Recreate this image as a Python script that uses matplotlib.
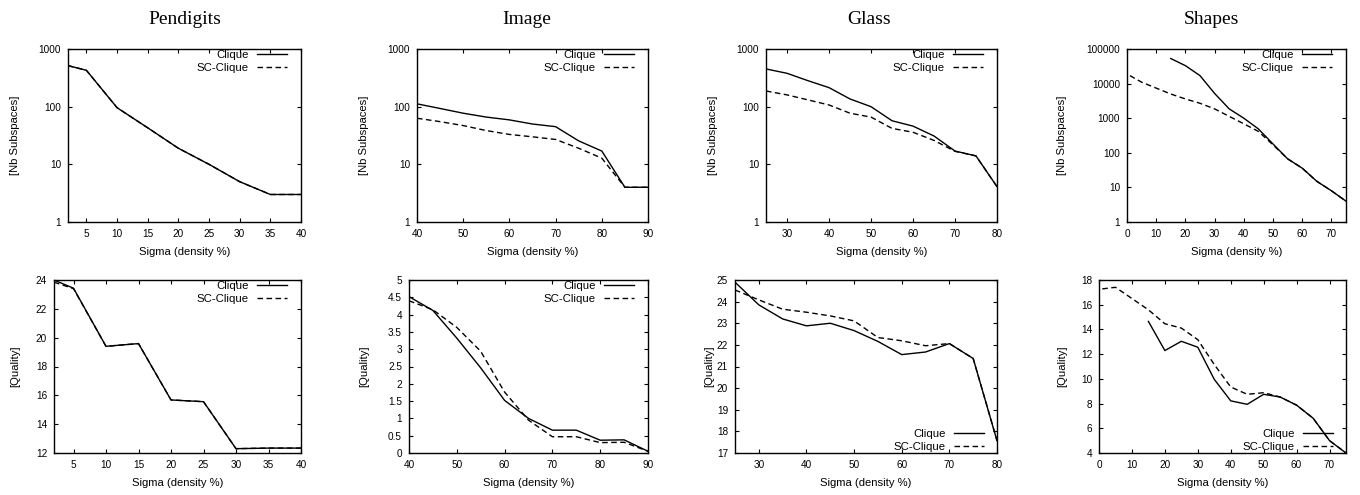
import matplotlib
matplotlib.use("Agg")
import matplotlib.pyplot as plt
from matplotlib.ticker import FuncFormatter, NullLocator

# ---------------- data ----------------
titles = ["Pendigits", "Image", "Glass", "Shapes"]
series_names = ["Clique", "SC-Clique"]

pend_x = [2, 5, 10, 15, 20, 25, 30, 35, 40]
pend_nb_clique = [515, 427, 96, 43, 19, 10, 5, 3, 3]
pend_nb_sc = [515, 427, 96, 43, 19, 10, 5, 3, 3]
pend_q_clique = [24.0, 23.43, 19.4, 19.59, 15.68, 15.56, 12.3, 12.34, 12.34]
pend_q_sc = [23.85, 23.4, 19.4, 19.59, 15.68, 15.56, 12.3, 12.34, 12.34]

image_x = [40, 45, 50, 55, 60, 65, 70, 75, 80, 85, 90]
image_nb_clique = [112, 93, 77, 66, 59, 50, 45, 25.5, 17, 4, 4]
image_nb_sc = [63, 55, 47, 38.5, 33, 30, 27, 19, 12.8, 4, 4]
image_q_clique = [4.52, 4.12, 3.32, 2.46, 1.52, 1.0, 0.66, 0.66, 0.37, 0.38, 0.05]
image_q_sc = [4.4, 4.14, 3.63, 2.94, 1.76, 0.95, 0.47, 0.47, 0.3, 0.31, 0.05]

glass_x = [25, 30, 35, 40, 45, 50, 55, 60, 65, 70, 75, 80]
glass_nb_clique = [451, 379, 282, 214, 136, 100, 57, 46, 31, 17, 14, 4.1]
glass_nb_sc = [187, 160, 131, 107, 77, 66, 42, 36, 26, 16.8, 14, 4.1]
glass_q_clique = [24.9, 23.85, 23.2, 22.88, 23.0, 22.66, 22.16, 21.55, 21.67, 22.06, 21.37, 17.57]
glass_q_sc = [24.54, 24.08, 23.65, 23.51, 23.34, 23.11, 22.34, 22.19, 21.96, 22.06, 21.37, 17.57]

shapes_clique_x = [15, 20, 25, 30, 35, 40, 45, 50, 55, 60, 65, 70, 75]
shapes_sc_x = [1, 5, 10, 15, 20, 25, 30, 35, 40, 45, 50, 55, 60, 65, 70, 75]
shapes_nb_clique = [53000, 33000, 17000, 5200, 1860, 1000, 490, 180, 67, 36, 15, 8, 4]
shapes_nb_sc = [17000, 11000, 7400, 5000, 3600, 2700, 1860, 1130, 690, 415, 170, 67, 36, 15, 8, 4]
shapes_q_clique = [14.65, 12.29, 13.04, 12.56, 9.96, 8.22, 7.94, 8.75, 8.53, 7.87, 6.82, 5.0, 4.0]
shapes_q_sc = [17.28, 17.41, 16.5, 15.59, 14.46, 14.11, 13.17, 11.16, 9.34, 8.75, 8.88, 8.53, 7.87, 6.82, 5.0, 4.0]

pend_xticks = [5, 10, 15, 20, 25, 30, 35, 40]
image_xticks = [40, 50, 60, 70, 80, 90]
glass_xticks = [30, 40, 50, 60, 70, 80]
shapes_xticks = [0, 10, 20, 30, 40, 50, 60, 70]

nb_yticks = [1, 10, 100, 1000]
shapes_nb_yticks = [1, 10, 100, 1000, 10000, 100000]
pend_q_yticks = [12, 14, 16, 18, 20, 22, 24]
image_q_yticks = [0, 0.5, 1, 1.5, 2, 2.5, 3, 3.5, 4, 4.5, 5]
glass_q_yticks = [17, 18, 19, 20, 21, 22, 23, 24, 25]
shapes_q_yticks = [4, 6, 8, 10, 12, 14, 16, 18]

xlabel_text = "Sigma (density %)"
ylabel_top = "[Nb Subspaces]"
ylabel_bottom = "[Quality]"

# ---------------- layout ----------------
W, H = 1360, 495
plt.rcParams["font.family"] = ["Liberation Sans", "DejaVu Sans"]
fig = plt.figure(figsize=(W / 100, H / 100), dpi=100)

def px_axes(l, r, t, b):
    return fig.add_axes([l / W, 1 - b / H, (r - l) / W, (b - t) / H])

top_lr = [(68, 301), (417, 648), (766, 997), (1127, 1346)]
bot_lr = [(54, 301), (409, 648), (735, 997), (1099, 1346)]
top_tb = (49, 222)
bot_tb = (280, 453)
ylabel_x_top = [15, 364, 713, 1062]
ylabel_x_bot = [15, 364, 709, 1062]
title_x = [185, 527, 869, 1211]

TICK_FS = 7.2
LABEL_FS = 8.1
LEG_FS = 8.2
SOLID = dict(color="black", lw=1.0, linestyle="-")
DASH = dict(color="black", lw=1.0, linestyle=(0, (4, 2.5)))

top_data = [
    (pend_x, pend_nb_clique, pend_x, pend_nb_sc, (2, 40), (1, 1000), pend_xticks, nb_yticks),
    (image_x, image_nb_clique, image_x, image_nb_sc, (40, 90), (1, 1000), image_xticks, nb_yticks),
    (glass_x, glass_nb_clique, glass_x, glass_nb_sc, (25, 80), (1, 1000), glass_xticks, nb_yticks),
    (shapes_clique_x, shapes_nb_clique, shapes_sc_x, shapes_nb_sc, (0, 75), (1, 100000), shapes_xticks, shapes_nb_yticks),
]
bot_data = [
    (pend_x, pend_q_clique, pend_x, pend_q_sc, (2, 40), (12, 24), pend_xticks, pend_q_yticks, "upper"),
    (image_x, image_q_clique, image_x, image_q_sc, (40, 90), (0, 5), image_xticks, image_q_yticks, "upper"),
    (glass_x, glass_q_clique, glass_x, glass_q_sc, (25, 80), (17, 25), glass_xticks, glass_q_yticks, "lower"),
    (shapes_clique_x, shapes_q_clique, shapes_sc_x, shapes_q_sc, (0, 75), (4, 18), shapes_xticks, shapes_q_yticks, "lower"),
]

def style_axes(ax):
    for s in ax.spines.values():
        s.set_linewidth(1.0)
    ax.tick_params(which="both", direction="in", top=True, right=True,
                   length=2.8, width=0.8, labelsize=TICK_FS)
    ax.tick_params(axis="x", pad=4.9)
    ax.tick_params(axis="y", pad=5.0)
    ax.xaxis.set_minor_locator(NullLocator())
    ax.yaxis.set_minor_locator(NullLocator())

def add_legend(ax, l, r, t, b, where):
    h1, = ax.plot([], [], **SOLID)
    h2, = ax.plot([], [], **DASH)
    if where == "upper":
        anchor = ((r - 14) / W, 1 - (t + 1.0) / H)
        loc = "upper right"
    else:
        anchor = ((r - 13) / W, 1 - (b - 1.5) / H)
        loc = "lower right"
    ax.legend([h1, h2], series_names, loc=loc, bbox_to_anchor=anchor,
              bbox_transform=fig.transFigure, frameon=False, markerfirst=False,
              fontsize=LEG_FS, handlelength=2.65, handletextpad=0.7,
              labelspacing=0.22, borderpad=0, borderaxespad=0)

for i in range(4):
    # top row
    l, r = top_lr[i]
    t, b = top_tb
    ax = px_axes(l, r, t, b)
    cx, cy, sx, sy, xl, yl, xt, yt = top_data[i]
    ax.plot(cx, cy, **SOLID)
    ax.plot(sx, sy, **DASH)
    ax.set_yscale("log")
    ax.set_xlim(*xl)
    ax.set_ylim(*yl)
    ax.set_xticks(xt)
    ax.set_yticks(yt)
    ax.yaxis.set_major_formatter(FuncFormatter(lambda v, p: "%d" % round(v)))
    ax.xaxis.set_major_formatter(FuncFormatter(lambda v, p: "%g" % v))
    style_axes(ax)
    add_legend(ax, l, r, t, b, "upper")
    fig.text((l + r) / 2 / W, 1 - 252 / H, xlabel_text, ha="center", va="center", fontsize=LABEL_FS)
    fig.text(ylabel_x_top[i] / W, 1 - (t + b) / 2 / H, ylabel_top, rotation=90,
             ha="center", va="center", fontsize=LABEL_FS)
    fig.text(title_x[i] / W, 1 - 20 / H, titles[i], ha="center", va="center",
             fontsize=14, family=["Liberation Serif", "DejaVu Serif"])

    # bottom row
    l, r = bot_lr[i]
    t, b = bot_tb
    ax = px_axes(l, r, t, b)
    cx, cy, sx, sy, xl, yl, xt, yt, where = bot_data[i]
    ax.plot(cx, cy, **SOLID)
    ax.plot(sx, sy, **DASH)
    ax.set_xlim(*xl)
    ax.set_ylim(*yl)
    ax.set_xticks(xt)
    ax.set_yticks(yt)
    ax.yaxis.set_major_formatter(FuncFormatter(lambda v, p: "%g" % v))
    ax.xaxis.set_major_formatter(FuncFormatter(lambda v, p: "%g" % v))
    style_axes(ax)
    add_legend(ax, l, r, t, b, where)
    fig.text((l + r) / 2 / W, 1 - 483 / H, xlabel_text, ha="center", va="center", fontsize=LABEL_FS)
    fig.text(ylabel_x_bot[i] / W, 1 - (t + b) / 2 / H, ylabel_bottom, rotation=90,
             ha="center", va="center", fontsize=LABEL_FS)

fig.savefig("out.png", dpi=100)
